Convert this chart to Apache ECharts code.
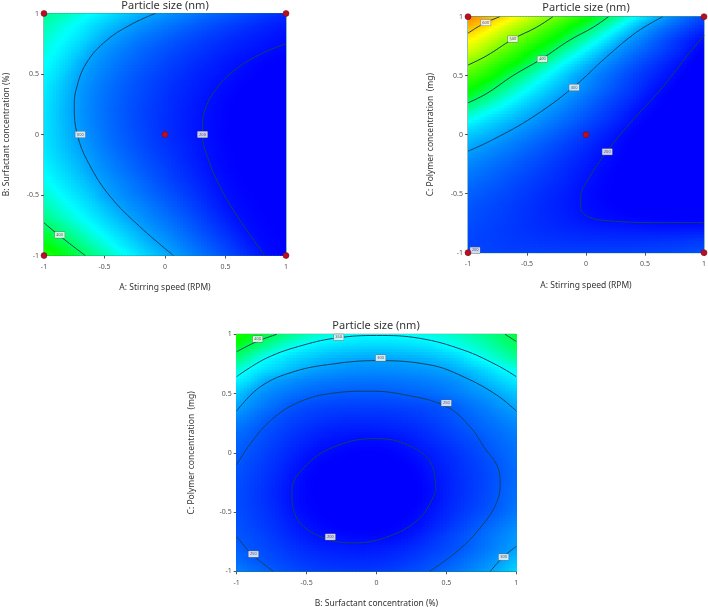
<!DOCTYPE html>
<html>
<head>
<meta charset="utf-8">
<title>Particle size contour plots</title>
<style>
  html, body { margin: 0; padding: 0; background: #fff; }
  #main { width: 708px; height: 607px; }
</style>
<script src="https://cdn.jsdelivr.net/npm/echarts@6/dist/echarts.min.js"></script>
</head>
<body>
<div id="main"></div>
<script>
  var tickValues = [-1, -0.9, -0.8, -0.7, -0.6, -0.5, -0.4, -0.3, -0.2, -0.1, 0, 0.1, 0.2, 0.3, 0.4, 0.5, 0.6, 0.7, 0.8, 0.9, 1];

  // particle size, first row is y = 1, last row y = -1
  var sizeAB = [
    [385,378,370,360,350,340,330,320,310,302,293,285,277,269,261,254,247,240,233,226,220],
    [375,365,355,345,333,322,311,300,290,281,273,265,257,249,242,235,229,223,217,211,206],
    [367,356,346,335,322,306,295,284,274,265,257,249,242,235,229,223,217,212,207,203,199],
    [360,349,337,324,306,293,282,272,262,254,246,239,232,226,220,214,209,205,201,197,194],
    [353,341,328,310,296,284,273,263,254,246,238,231,224,218,212,206,201,197,193,190,187],
    [347,335,319,302,289,277,266,256,247,239,232,225,218,212,207,202,197,193,189,186,183],
    [342,328,313,296,283,271,261,251,243,235,227,220,214,208,202,197,193,189,185,182,179],
    [339,325,310,294,280,268,258,248,240,232,224,217,211,205,199,194,190,186,182,179,176],
    [337,323,308,293,279,267,256,247,238,230,223,216,209,203,197,192,188,184,180,177,175],
    [336,323,309,294,280,268,257,247,238,230,222,215,208,202,197,192,187,183,180,177,174],
    [336,324,311,297,283,270,259,249,240,231,223,215,208,201,196,191,187,183,180,177,174],
    [338,326,314,301,288,275,263,253,243,234,226,218,211,204,198,193,188,184,181,178,175],
    [342,331,319,308,295,282,270,259,249,239,231,222,213,205,198,194,189,185,182,179,177],
    [348,337,326,314,300,289,277,266,255,245,236,226,218,209,200,195,191,187,184,181,179],
    [356,345,334,323,311,298,286,274,263,252,242,232,223,214,204,197,193,189,186,183,181],
    [366,354,343,332,320,304,293,282,271,260,250,240,230,220,209,199,195,191,188,185,183],
    [376,365,354,342,331,318,305,293,282,271,260,249,238,227,216,204,197,193,190,187,185],
    [391,378,366,354,342,330,317,304,293,281,270,259,248,236,224,213,201,196,192,189,187],
    [408,398,383,370,356,343,331,319,306,294,282,270,258,246,234,222,210,198,194,191,189],
    [428,414,401,387,373,359,345,332,319,306,295,282,270,257,245,233,220,207,196,193,191],
    [450,434,420,405,391,377,362,348,334,321,307,296,283,270,257,244,231,218,204,195,192]
  ];

  var sizeAC = [
    [650,632,612,594,570,548,526,504,482,460,438,418,398,376,354,332,311,290,272,255,240],
    [612,594,572,548,526,506,484,462,442,420,404,382,362,340,316,294,276,260,245,230,218],
    [575,556,536,510,490,470,450,430,412,392,372,352,330,306,288,272,254,238,223,210,198],
    [545,525,497,478,458,438,418,402,380,362,342,322,300,284,268,254,240,227,214,198,188],
    [505,484,465,445,428,408,390,370,350,332,314,296,280,264,250,236,224,212,200,190,183],
    [470,455,437,415,397,380,362,344,326,308,293,277,263,249,236,224,213,202,192,184,178],
    [440,422,405,388,372,355,339,324,310,298,283,268,254,241,228,216,202,194,186,179,173],
    [410,394,379,363,348,333,319,306,293,280,267,254,241,229,218,204,195,188,181,175,170],
    [377,363,350,338,325,313,302,290,278,266,254,242,230,219,205,196,190,183,177,172,168],
    [347,336,325,316,306,296,285,274,263,252,241,230,220,209,197,191,185,179,174,170,166],
    [322,315,308,297,288,278,268,258,248,238,228,218,208,197,191,186,180,175,171,167,164],
    [306,297,289,281,272,263,254,245,236,227,218,209,200,194,188,183,178,173,169,166,163],
    [290,283,275,267,259,251,243,235,227,219,211,203,197,191,186,181,176,172,168,165,163],
    [277,270,263,256,249,242,235,228,220,213,206,198,193,188,183,179,175,171,168,165,163],
    [266,260,254,248,241,235,228,222,216,208,201,196,191,187,183,179,175,172,169,166,164],
    [257,252,246,241,235,229,223,217,211,205,198,194,190,186,183,180,176,173,171,168,166],
    [250,245,240,235,230,225,220,215,210,204,198,195,192,189,186,183,180,177,175,173,171],
    [245,241,237,233,228,224,220,216,212,207,202,198,196,194,192,190,189,187,186,185,184],
    [240,237,234,230,227,224,221,219,216,214,212,210,209,208,207,206,205,205,205,205,205],
    [238,235,233,231,229,228,226,225,224,223,222,222,222,222,222,223,224,225,226,228,230],
    [238,236,235,234,233,233,233,233,233,233,233,233,234,234,235,236,237,238,240,242,245]
  ];

  var sizeBC = [
    [445,428,413,398,385,374,365,358,354,352,352,352,354,357,361,366,372,379,388,398,412],
    [420,402,385,370,356,346,339,334,331,329,329,329,331,334,339,348,356,365,375,387,400],
    [393,374,352,341,331,323,316,310,307,305,304,305,307,310,315,322,331,347,358,370,382],
    [365,347,335,325,314,304,298,293,289,287,287,288,290,293,297,301,311,321,333,347,357],
    [343,328,305,294,286,279,274,271,269,268,268,269,271,274,278,283,291,303,315,327,338],
    [322,301,287,277,269,262,256,253,251,251,251,253,256,260,265,271,279,288,297,308,320],
    [305,288,274,262,249,243,239,236,235,235,235,236,238,241,245,250,261,272,282,295,305],
    [285,272,258,246,238,232,228,224,222,222,222,223,226,230,236,244,253,262,271,280,290],
    [270,258,247,238,229,222,216,212,210,209,210,212,215,220,227,235,244,253,262,270,279],
    [259,251,241,231,221,213,206,202,199,197,197,199,204,211,219,227,235,244,254,263,271],
    [254,246,235,225,215,205,198,194,191,190,190,192,196,203,211,219,228,237,248,258,268],
    [250,240,230,220,208,198,192,188,185,183,183,185,189,197,206,215,224,233,243,254,265],
    [246,236,226,216,203,194,188,184,181,179,179,181,185,192,202,212,222,231,240,252,263],
    [244,234,224,213,201,193,187,183,180,178,177,179,183,190,198,211,221,231,241,254,265],
    [243,233,224,213,200,193,188,184,181,179,178,180,184,191,199,212,223,233,244,256,268],
    [244,235,226,216,203,195,190,186,183,181,181,184,188,195,204,216,227,238,248,260,273],
    [246,238,229,220,210,201,194,189,187,186,186,189,193,199,211,222,234,247,259,271,284],
    [250,243,235,225,215,207,201,197,195,194,194,196,201,211,222,234,245,257,269,281,294],
    [256,247,240,232,224,217,212,209,207,206,207,210,215,222,231,240,249,261,273,286,299],
    [265,252,246,239,232,226,222,219,218,217,218,221,226,233,242,250,261,273,285,301,315],
    [277,267,258,248,242,236,232,230,229,229,230,233,238,245,251,262,274,286,298,313,328]
  ];

  // contour lines, [x, y]
  var linesAB = [
    [[-1,-0.73],[-0.88,-0.83],[-0.66,-1]],
    [[-0.08,1],[-0.26,0.92],[-0.48,0.78],[-0.65,0.59],[-0.735,0.37],[-0.75,0.23],[-0.725,0],[-0.63,-0.24],[-0.455,-0.51],[-0.21,-0.76],[0.07,-1]],
    [[1,0.75],[0.78,0.66],[0.56,0.52],[0.425,0.38],[0.34,0.23],[0.31,0.09],[0.31,0],[0.36,-0.21],[0.47,-0.46],[0.62,-0.71],[0.825,-1]]
  ];
  var linesAC = [
    [[-1,0.86],[-0.87,0.94],[-0.73,1]],
    [[-1,0.59],[-0.84,0.67],[-0.62,0.81],[-0.42,0.91],[-0.28,1]],
    [[-1,0.27],[-0.84,0.35],[-0.62,0.5],[-0.38,0.64],[-0.14,0.8],[0.06,0.91],[0.19,1]],
    [[-1,-0.14],[-0.785,-0.04],[-0.45,0.15],[-0.11,0.4],[0.175,0.66],[0.43,0.87],[0.65,1]],
    [[1,0.84],[0.85,0.66],[0.63,0.38],[0.37,0.095],[0.175,-0.145],[0.03,-0.36],[-0.045,-0.53],[-0.045,-0.625],[0.03,-0.7],[0.2,-0.73],[0.57,-0.745],[1,-0.745]]
  ];
  var linesBC = [
    [[-1,0.853],[-0.857,0.938],[-0.714,1]],
    [[0.92,1],[1,0.94]],
    [[-1,0.643],[-0.785,0.8],[-0.52,0.91],[-0.28,0.97],[0,0.99],[0.31,0.966],[0.62,0.868],[0.86,0.741],[1,0.643]],
    [[-1,0.353],[-0.83,0.558],[-0.59,0.685],[-0.31,0.75],[0,0.778],[0.385,0.741],[0.62,0.643],[0.86,0.488],[1,0.353]],
    [[0.814,-1],[0.91,-0.876],[1,-0.79]],
    [[-1,-0.1],[-0.9,0.08],[-0.75,0.28],[-0.55,0.43],[-0.3,0.505],[-0.05,0.52],[0.2,0.49],[0.5,0.39],[0.67,0.22],[0.78,0.03],[0.86,-0.1],[0.885,-0.24],[0.86,-0.42],[0.74,-0.637],[0.575,-0.834],[0.38,-1]],
    [[-1,-0.707],[-0.89,-0.857],[-0.737,-1]],
    [[0.425,-0.32],[0.395,-0.1],[0.234,0.061],[-0.013,0.12],[-0.28,0.061],[-0.498,-0.1],[-0.605,-0.32],[-0.575,-0.54],[-0.415,-0.7],[-0.167,-0.76],[0.1,-0.7],[0.318,-0.54],[0.425,-0.32]]
  ];

  // contour labels, [x, y, text]
  var labelsAB = [[-0.87,-0.83,'400'],[-0.7,0,'300'],[0.31,0,'200']];
  var labelsAC = [[-0.85,0.95,'600'],[-0.62,0.81,'500'],[-0.37,0.64,'400'],[-0.1,0.4,'300'],[0.18,-0.145,'200'],[-0.94,-0.98,'200']];
  var labelsBC = [[-0.85,0.96,'400'],[-0.27,0.975,'350'],[0.03,0.8,'300'],[0.5,0.42,'250'],[-0.33,-0.71,'200'],[-0.88,-0.855,'250'],[0.91,-0.88,'300']];

  var pointsAB = [[-1,1],[1,1],[-1,-1],[1,-1],[0,0]];
  var pointsAC = [[-1,1],[1,1],[-1,-1],[1,-1],[0,0]];

  var stopValues = [190, 300, 350, 430, 570, 640, 720];
  var stopColors = ['#0000ff', '#00a0ff', '#00ffff', '#00ff00', '#ffff00', '#ff9000', '#ff0000'];

  function colorOf(v) {
    if (v <= stopValues[0]) return stopColors[0];
    for (var i = 1; i < stopValues.length; i++) {
      if (v <= stopValues[i]) {
        var t = (v - stopValues[i - 1]) / (stopValues[i] - stopValues[i - 1]);
        return echarts.color.lerp(t, [stopColors[i - 1], stopColors[i]]);
      }
    }
    return stopColors[stopColors.length - 1];
  }

  function cellData(rows) {
    var out = [];
    rows.forEach(function (row, r) {
      row.forEach(function (v, c) {
        out.push([tickValues[c], tickValues[20 - r], v]);
      });
    });
    return out;
  }

  // shade inside a table cell from the table values round it, the surface in the reference is continuous
  function shadeAt(rows, x, y) {
    var cf = Math.max(0, Math.min(20, (x + 1) * 10));
    var rf = Math.max(0, Math.min(20, (1 - y) * 10));
    var c0 = Math.min(19, Math.floor(cf)), r0 = Math.min(19, Math.floor(rf));
    var u = cf - c0, w = rf - r0;
    return (rows[r0][c0] * (1 - u) + rows[r0][c0 + 1] * u) * (1 - w) +
      (rows[r0 + 1][c0] * (1 - u) + rows[r0 + 1][c0 + 1] * u) * w;
  }

  function cellRenderer(rows) {
    var steps = 4, part = 0.1 / steps;
    return function (params, api) {
      var x = api.value(0), y = api.value(1), children = [];
      for (var i = 0; i < steps; i++) {
        for (var j = 0; j < steps; j++) {
          var sx = x - 0.05 + i * part, sy = y + 0.05 - j * part;
          var a = api.coord([sx, sy]);
          var b = api.coord([sx + part, sy - part]);
          children.push({
            type: 'rect',
            shape: { x: a[0], y: a[1], width: b[0] - a[0] + 1, height: b[1] - a[1] + 1 },
            style: { fill: colorOf(shadeAt(rows, sx + part / 2, sy - part / 2)) }
          });
        }
      }
      return { type: 'group', children: children };
    };
  }

  var panels = [
    { rows: sizeAB, lines: linesAB, labels: labelsAB, points: pointsAB, left: 44, top: 13.5, width: 242, height: 242,
      xName: 'A: Stirring speed (RPM)', yName: 'B: Surfactant concentration (%)', titleX: 165, titleY: 0, yGap: 33, xGap: 28 },
    { rows: sizeAC, lines: linesAC, labels: labelsAC, points: pointsAC, left: 468, top: 16.7, width: 236, height: 236,
      xName: 'A: Stirring speed (RPM)', yName: 'C: Polymer concentration  (mg)', titleX: 586, titleY: 2, yGap: 33, xGap: 28 },
    { rows: sizeBC, lines: linesBC, labels: labelsBC, points: [], left: 236.7, top: 334.3, width: 279.5, height: 237,
      xName: 'B: Surfactant concentration (%)', yName: 'C: Polymer concentration  (mg)', titleX: 376, titleY: 320, yGap: 41, xGap: 28 }
  ];

  var option = { animation: false, title: [], grid: [], xAxis: [], yAxis: [], series: [] };

  panels.forEach(function (p, i) {
    option.title.push({
      text: 'Particle size (nm)', left: p.titleX, top: p.titleY, textAlign: 'center', padding: 0,
      textStyle: { fontFamily: 'Noto Sans', fontSize: 11, fontWeight: 'normal', color: '#333' }
    });
    option.grid.push({
      left: p.left, top: p.top, width: p.width, height: p.height, outerBoundsMode: 'none',
      show: true, borderColor: '#1f7f73', borderWidth: 1, backgroundColor: 'transparent'
    });
    var axisBase = {
      gridIndex: i, type: 'value', min: -1, max: 1, interval: 0.5,
      nameLocation: 'middle',
      nameTextStyle: { fontFamily: 'Noto Sans', fontSize: 8.5, color: '#333' },
      axisLine: { show: true, onZero: false, lineStyle: { color: '#1f7f73', width: 1 } },
      axisTick: { show: true, length: 3, lineStyle: { color: '#555' } },
      splitLine: { show: false }
    };
    var labelStyle = { fontFamily: 'Noto Sans', fontSize: 7, color: '#555' };
    option.xAxis.push(Object.assign({}, axisBase, { name: p.xName, nameGap: p.xGap, axisLabel: Object.assign({ margin: 8 }, labelStyle) }));
    option.yAxis.push(Object.assign({}, axisBase, { name: p.yName, nameGap: p.yGap, axisLabel: Object.assign({ margin: 5 }, labelStyle) }));

    option.series.push({
      type: 'custom', xAxisIndex: i, yAxisIndex: i, clip: true, silent: true, z: 1,
      renderItem: cellRenderer(p.rows),
      encode: { x: 0, y: 1 },
      data: cellData(p.rows)
    });
    p.lines.forEach(function (line) {
      option.series.push({
        type: 'line', xAxisIndex: i, yAxisIndex: i, data: line, smooth: 0.4, symbol: 'none', silent: true, z: 3,
        lineStyle: { color: '#14425f', width: 1 }
      });
    });
    option.series.push({
      type: 'scatter', xAxisIndex: i, yAxisIndex: i, symbolSize: 0, silent: true, z: 4,
      data: p.labels,
      label: {
        show: true, position: 'inside', fontFamily: 'Noto Sans', fontSize: 4, color: '#333',
        backgroundColor: '#fff', borderColor: '#666', borderWidth: 0.5, padding: [1, 1.5],
        formatter: function (d) { return d.value[2]; }
      }
    });
    if (p.points.length) {
      option.series.push({
        type: 'scatter', xAxisIndex: i, yAxisIndex: i, symbolSize: 6, clip: false, silent: true, z: 5,
        data: p.points,
        itemStyle: { color: '#b80f22', borderColor: '#6e0a16', borderWidth: 0.5, opacity: 1 }
      });
    }
  });

  var chart = echarts.init(document.getElementById('main'), null, { renderer: 'canvas' });
  chart.setOption(option);
</script>
</body>
</html>
